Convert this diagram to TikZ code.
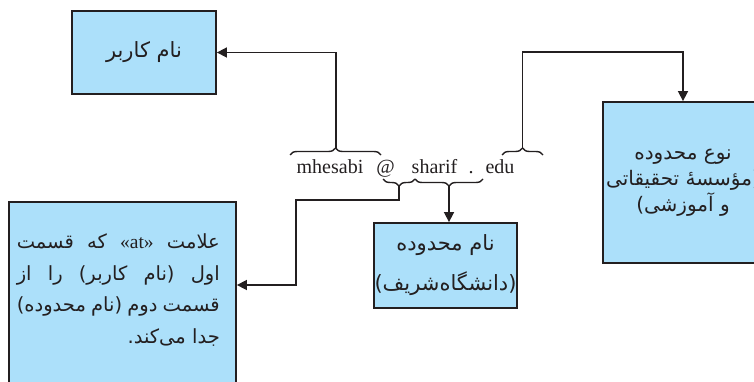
\documentclass[tikz,border=0pt]{standalone}
\usepackage{fontspec}
\setmainfont{Liberation Serif}
\newfontfamily\arabicfont[Script=Arabic]{DejaVu Sans}
\TeXXeTstate=1
\usetikzlibrary{decorations.pathreplacing,arrows.meta}
\definecolor{boxblue}{RGB}{172,224,250}
\definecolor{ink}{RGB}{35,31,32}
\begin{document}
\begin{tikzpicture}[x=1pt,y=-1pt,
  box/.style={draw=ink, line width=1.8pt, fill=boxblue, inner sep=0pt},
  arr/.style={draw=ink, line width=1.6pt, -{Triangle[length=10pt,width=10pt]}},
  brc/.style={draw=ink, line width=1.4pt, decorate, decoration={brace, amplitude=7pt}},
  brcm/.style={brc, decoration={brace, amplitude=7pt, mirror}},
  fa/.style={font=\arabicfont\fontsize{21}{26}\selectfont, text=ink, align=center},
  faline/.style={font=\arabicfont\fontsize{19.5}{26}\selectfont, text=ink, inner sep=0pt, anchor=base east},
  lat/.style={font=\fontsize{20}{24}\selectfont, text=ink, inner sep=0pt, anchor=base}]
\useasboundingbox (0,0) rectangle (754,382);
% boxes
\node[box, minimum width=144pt, minimum height=83pt, fa] (user) at (144,52.5) {\beginR نام کاربر\endR};
\node[box, minimum width=143pt, minimum height=85pt, fa, font=\arabicfont\fontsize{21}{40}\selectfont] (dom) at (445.5,265.5) {\beginR نام محدوده\endR\\ \beginR (دانشگاه‌شریف)\endR};
\node[box, minimum width=160pt, minimum height=161pt, fa, font=\arabicfont\fontsize{20}{26}\selectfont] (type) at (683,182.5) {\beginR نوع محدوده\endR\\ \beginR (مؤسسهٔ تحقیقاتی\endR\\ \beginR و آموزشی)\endR};
\node[box, minimum width=227pt, minimum height=198pt] (at) at (122.5,301) {};
% text of the @ box
\node[faline] (l1) at (220,248) {\hbox to 203pt{\beginR علامت \beginL{\rmfamily «at»}\endL{} که قسمت\endR}};
\node[faline] (l2) at (220,280) {\hbox to 203pt{\beginR اول (نام کاربر) را از\endR}};
\node[faline] (l3) at (220,311) {\hbox to 203pt{\beginR قسمت دوم (نام محدوده)\endR}};
\node[faline] (l4) at (220,343) {\beginR جدا می‌کند.\endR};
% address
\node[lat] (m) at (330,174) {mhesabi};
\node[lat] (a) at (385.5,174) {@};
\node[lat] (s) at (434.5,174) {sharif};
\node[lat] (d) at (471,174) {.};
\node[lat] (e) at (500,174) {edu};
% braces
\draw[brc] (290,155) -- (381,155);
\draw[brc] (502,155) -- (543,155);
\draw[brcm] (383,179) -- (415,179);
\draw[brcm] (415,179) -- (483,179);
\coordinate (tm) at (336,148);
\coordinate (te) at (522.5,148);
\coordinate (ta) at (399,186);
\coordinate (ts) at (449,186);
% connectors
\draw[arr] (tm) |- (user.east);
\draw[arr] (te) -- (522.5,52) -| (type.north);
\draw[arr] (ta) |- (296,200) |- (at.east |- 0,285);
\draw[arr] (ts) -- (ts |- dom.north);
\end{tikzpicture}
\end{document}
